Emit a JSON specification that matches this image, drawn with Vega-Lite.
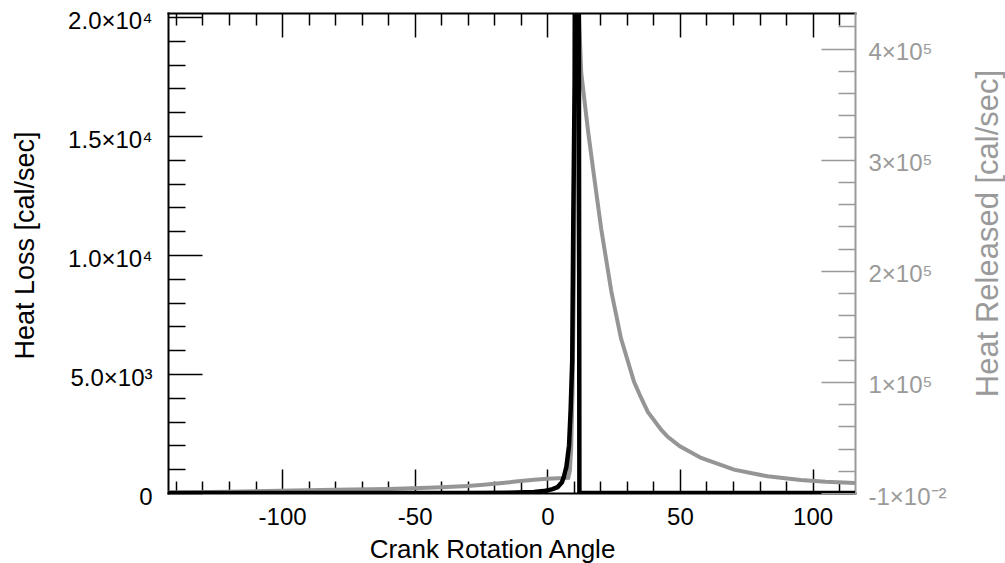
{
  "$schema": "https://vega.github.io/schema/vega-lite/v6.json",
  "width": 687,
  "height": 480,
  "autosize": {"type": "none"},
  "padding": {"left": 168, "top": 13, "right": 150, "bottom": 70},
  "background": "white",
  "config": {
    "view": {"stroke": null},
    "axis": {"grid": false, "labelFont": "Liberation Sans", "titleFont": "Liberation Sans", "titleFontWeight": "normal", "labelFlush": false, "labelOverlap": false, "domainWidth": 2, "tickWidth": 1.5, "domainCap": "square"}
  },
  "datasets": {
    "loss": [
      {"angle": -143, "loss": 0}, {"angle": -60, "loss": 0}, {"angle": -30, "loss": 5}, {"angle": -15, "loss": 15},
      {"angle": -5, "loss": 40}, {"angle": -1.4, "loss": 80}, {"angle": 2, "loss": 160}, {"angle": 3.9, "loss": 250},
      {"angle": 5.5, "loss": 450}, {"angle": 6.3, "loss": 700}, {"angle": 7.2, "loss": 1100}, {"angle": 7.7, "loss": 1550},
      {"angle": 8.2, "loss": 2000}, {"angle": 8.8, "loss": 3500}, {"angle": 9.4, "loss": 5600}, {"angle": 9.8, "loss": 11500},
      {"angle": 10.3, "loss": 17300}, {"angle": 10.7, "loss": 40000}, {"angle": 11.7, "loss": 40000},
      {"angle": 12.1, "loss": 0}, {"angle": 116, "loss": 0}
    ],
    "rel": [
      {"angle": -143, "rel": 500}, {"angle": -120, "rel": 1200}, {"angle": -96, "rel": 2200}, {"angle": -80, "rel": 2900},
      {"angle": -60, "rel": 3700}, {"angle": -48, "rel": 4500}, {"angle": -40, "rel": 5200}, {"angle": -30, "rel": 6400},
      {"angle": -24, "rel": 7400}, {"angle": -18, "rel": 8700}, {"angle": -12, "rel": 10300}, {"angle": -5, "rel": 12000},
      {"angle": 0, "rel": 12800}, {"angle": 4, "rel": 13300}, {"angle": 7.9, "rel": 13600}, {"angle": 8.5, "rel": 20000},
      {"angle": 9, "rel": 40000}, {"angle": 9.5, "rel": 90000}, {"angle": 10, "rel": 180000}, {"angle": 10.5, "rel": 300000},
      {"angle": 11, "rel": 400000}, {"angle": 11.5, "rel": 450000}, {"angle": 12, "rel": 425000}, {"angle": 12.8, "rel": 378000},
      {"angle": 15.3, "rel": 327000}, {"angle": 17.8, "rel": 282000}, {"angle": 20.3, "rel": 238000}, {"angle": 24.1, "rel": 182000},
      {"angle": 27.8, "rel": 139000}, {"angle": 32.7, "rel": 100000}, {"angle": 35.3, "rel": 86000}, {"angle": 37.9, "rel": 73000},
      {"angle": 42.9, "rel": 57000}, {"angle": 45.4, "rel": 50500}, {"angle": 50, "rel": 42000}, {"angle": 58, "rel": 31500},
      {"angle": 70.4, "rel": 21000}, {"angle": 83, "rel": 15000}, {"angle": 95.5, "rel": 11800}, {"angle": 105, "rel": 10200},
      {"angle": 116, "rel": 9000}
    ]
  },
  "layer": [
    {
      "data": {"name": "rel"},
      "mark": {"type": "line", "color": "#959595", "strokeWidth": 4, "clip": true},
      "encoding": {
        "x": {"field": "angle", "type": "quantitative", "scale": {"domain": [-143, 116], "nice": false, "zero": false},
          "axis": {"orient": "top", "values": [-100, -50, 0, 50, 100], "labels": false, "title": null, "tickSize": -24, "domainColor": "#000", "tickColor": "#000"}},
        "y": {"field": "rel", "type": "quantitative", "scale": {"domain": [0, 432000], "nice": false, "zero": false},
          "axis": {"orient": "right", "values": [0, 100000, 200000, 300000, 400000], "tickSize": -34, "domainColor": "#999999", "tickColor": "#999999",
            "labelExpr": "datum.value == 0 ? '-1×10⁻²' : format(datum.value/100000, 'd') + '×10⁵'",
            "labelColor": "#9a9a9a", "labelFontSize": 24, "labelAlign": "left", "labelBaseline": "middle", "labelOffset": 4, "labelPadding": 47,
            "title": "Heat Released [cal/sec]", "titleColor": "#9a9a9a", "titleFontSize": 31, "titleAngle": 270, "titleX": 142, "titleY": 220, "titleAlign": "center", "titleBaseline": "alphabetic"}}
      }
    },
    {
      "data": {"name": "loss"},
      "mark": {"type": "line", "color": "#000000", "strokeWidth": 4.5, "clip": true},
      "encoding": {
        "x": {"field": "angle", "type": "quantitative", "scale": {"domain": [-143, 116], "nice": false, "zero": false},
          "axis": {"orient": "bottom", "values": [-100, -50, 0, 50, 100], "tickSize": -24, "domainColor": "#000", "tickColor": "#000",
            "labelColor": "#000", "labelFontSize": 24, "labelPadding": 36, "labelBaseline": "top", "labelExpr": "'' + datum.value",
            "title": "Crank Rotation Angle", "titleColor": "#000", "titleFontSize": 26, "titleX": 324, "titleY": 64, "titleAlign": "center", "titleBaseline": "alphabetic"}},
        "y": {"field": "loss", "type": "quantitative", "scale": {"domain": [0, 20170], "nice": false, "zero": false},
          "axis": {"orient": "left", "values": [0, 5000, 10000, 15000, 20000], "tickSize": -34, "domainColor": "#000", "tickColor": "#000",
            "labelExpr": "datum.value == 0 ? '0' : datum.value == 5000 ? '5.0×10³' : datum.value == 10000 ? '1.0×10⁴' : datum.value == 15000 ? '1.5×10⁴' : '2.0×10⁴'",
            "labelColor": "#000", "labelFontSize": 24, "labelAlign": "right", "labelBaseline": "middle", "labelOffset": 4, "labelPadding": 50,
            "title": "Heat  Loss [cal/sec]", "titleColor": "#000", "titleFontSize": 27, "titleAngle": 270, "titleX": -135, "titleY": 232, "titleAlign": "center", "titleBaseline": "alphabetic"}}
      }
    },
    {
      "data": {"name": "loss"},
      "mark": {"type": "point", "opacity": 0},
      "encoding": {
        "x": {"field": "angle", "type": "quantitative", "scale": {"domain": [-143, 116], "nice": false, "zero": false},
          "axis": {"orient": "bottom", "values": [-140, -130, -120, -110, -90, -80, -70, -60, -40, -30, -20, -10, 10, 20, 30, 40, 60, 70, 80, 90, 110], "tickSize": -12, "labels": false, "domain": false, "title": null, "tickColor": "#000"}},
        "y": {"field": "loss", "type": "quantitative", "scale": {"domain": [0, 20170], "nice": false, "zero": false},
          "axis": {"orient": "left", "values": [1000, 2000, 3000, 4000, 6000, 7000, 8000, 9000, 11000, 12000, 13000, 14000, 16000, 17000, 18000, 19000], "tickSize": -17, "labels": false, "domain": false, "title": null, "tickColor": "#000"}}
      }
    },
    {
      "data": {"name": "rel"},
      "mark": {"type": "point", "opacity": 0},
      "encoding": {
        "x": {"field": "angle", "type": "quantitative", "scale": {"domain": [-143, 116], "nice": false, "zero": false},
          "axis": {"orient": "top", "values": [-140, -130, -120, -110, -90, -80, -70, -60, -40, -30, -20, -10, 10, 20, 30, 40, 60, 70, 80, 90, 110], "tickSize": -12, "labels": false, "domain": false, "title": null, "tickColor": "#000"}},
        "y": {"field": "rel", "type": "quantitative", "scale": {"domain": [0, 432000], "nice": false, "zero": false},
          "axis": {"orient": "right", "values": [20000, 40000, 60000, 80000, 120000, 140000, 160000, 180000, 220000, 240000, 260000, 280000, 320000, 340000, 360000, 380000, 420000], "tickSize": -17, "labels": false, "domain": false, "title": null, "tickColor": "#999999"}}
      }
    }
  ],
  "resolve": {"scale": {"y": "independent"}, "axis": {"x": "independent", "y": "independent"}}
}
